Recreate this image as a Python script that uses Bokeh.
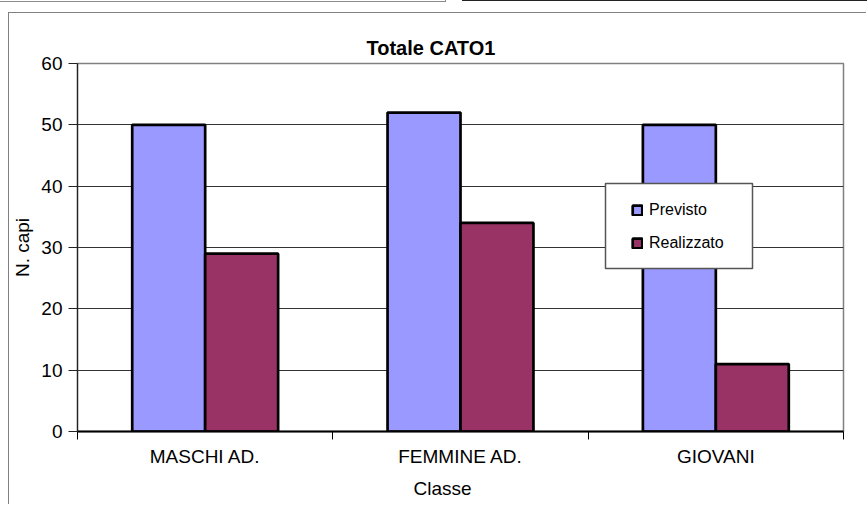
from bokeh.plotting import figure
from bokeh.models import (Range1d, FixedTicker, LinearAxis, Title, Legend, LegendItem,
                          BoxAnnotation, ColumnDataSource)
from bokeh.embed import file_html
from bokeh.resources import INLINE

# ---- data ----
categories = ["MASCHI AD.", "FEMMINE AD.", "GIOVANI"]
previsto = [50, 52, 50]
realizzato = [29, 34, 11]
series_names = ["Previsto", "Realizzato"]
y_ticks = [0, 10, 20, 30, 40, 50, 60]
title_text = "Totale CATO1"
x_label = "Classe"
y_label = "N. capi"

FONT = "Liberation Sans"
COL_PREV = "#9999FF"
COL_REAL = "#993366"

n = len(categories)
bar_w = 1 / 3.5  # Excel gap width 150%
centers = [i + 0.5 for i in range(n)]

src_prev = ColumnDataSource(dict(x=[c - bar_w / 2 for c in centers], top=previsto))
src_real = ColumnDataSource(dict(x=[c + bar_w / 2 for c in centers], top=realizzato))

# outer chart-area border, plus the edges of the neighbouring page boxes at the top
edge_shadows = ", ".join([
    "-215px -297px 0 -206px #ffffff",
    "-214px -296px 0 -206px #8a8a8a",
    "229px -278px 0 -226px #ffffff",
    "228px -277px 0 -226px #222222",
])

p = figure(width=858, height=492,
           x_range=Range1d(0, n), y_range=Range1d(0, 60),
           output_backend="svg", toolbar_location=None,
           min_border_left=67, min_border_right=24,
           min_border_top=50, min_border_bottom=73,
           x_axis_type=None,
           styles={"border-top": "1px solid #808080",
                   "border-left": "1px solid #808080",
                   "margin-top": "12px",
                   "margin-left": "8px",
                   "margin-bottom": "-20px",
                   "box-shadow": edge_shadows})

p.background_fill_color = "white"
p.border_fill_color = "white"
p.outline_line_color = "#808080"
p.outline_line_width = 1.5

# title
p.title.text = title_text
p.title.align = "left"
p.title.offset = 289
p.title.standoff = 9
p.title.text_font = FONT
p.title.text_font_size = "20px"
p.title.text_font_style = "bold"
p.title.text_color = "black"

# bars
r_prev = p.vbar(x="x", top="top", bottom=0, width=bar_w, source=src_prev,
                fill_color=COL_PREV, line_color="black", line_width=2.7)
r_real = p.vbar(x="x", top="top", bottom=0, width=bar_w, source=src_real,
                fill_color=COL_REAL, line_color="black", line_width=2.7)

# grid
p.xgrid.visible = False
p.ygrid.grid_line_color = "#333333"
p.ygrid.grid_line_width = 1
p.ygrid.ticker = FixedTicker(ticks=y_ticks)

# y axis
ya = p.yaxis[0]
ya.ticker = FixedTicker(ticks=y_ticks)
ya.axis_label = y_label
ya.axis_label_text_font = FONT
ya.axis_label_text_font_size = "19px"
ya.axis_label_text_font_style = "normal"
ya.axis_label_text_color = "black"
ya.axis_label_standoff = 5
ya.major_label_text_font = FONT
ya.major_label_text_font_size = "19px"
ya.major_label_text_color = "black"
ya.major_label_standoff = 6
ya.major_tick_in = 0
ya.major_tick_out = 9
ya.minor_tick_line_color = None
ya.axis_line_color = "#222222"
ya.axis_line_width = 1.2
ya.major_tick_line_color = "#222222"

# x axis: labels at category centres, ticks at category boundaries
xa = LinearAxis(ticker=FixedTicker(ticks=centers, minor_ticks=list(range(n + 1))),
                major_label_overrides={c: lab for c, lab in zip(centers, categories)})
xa.major_label_text_font = FONT
xa.major_label_text_font_size = "19px"
xa.major_label_text_color = "black"
xa.major_label_standoff = 6
xa.major_tick_in = 0
xa.major_tick_out = 0
xa.major_tick_line_color = None
xa.minor_tick_in = 0
xa.minor_tick_out = 8
xa.minor_tick_line_color = "black"
xa.axis_line_color = "black"
xa.axis_line_width = 2
p.add_layout(xa, "below")

p.add_layout(Title(text=x_label, align="left", offset=336, standoff=13,
                   text_font=FONT, text_font_size="19px", text_font_style="normal",
                   text_color="black"), "below")

# legend box + legend
box = BoxAnnotation(left=528, right=675, bottom=163, top=248,
                    left_units="screen", right_units="screen",
                    bottom_units="screen", top_units="screen",
                    fill_color="white", fill_alpha=1,
                    line_color="#555555", line_width=1.5, line_alpha=1)
p.add_layout(box)

legend = Legend(items=[LegendItem(label=series_names[0], renderers=[r_prev]),
                       LegendItem(label=series_names[1], renderers=[r_real])],
                location=(554, 179), padding=0, spacing=15, margin=0,
                glyph_width=12, glyph_height=12, label_height=12,
                label_standoff=6,
                label_text_font=FONT, label_text_font_size="16px",
                label_text_color="black",
                border_line_color=None, background_fill_alpha=0)
p.add_layout(legend, "center")

open("out.html", "w").write(file_html(p, INLINE))
